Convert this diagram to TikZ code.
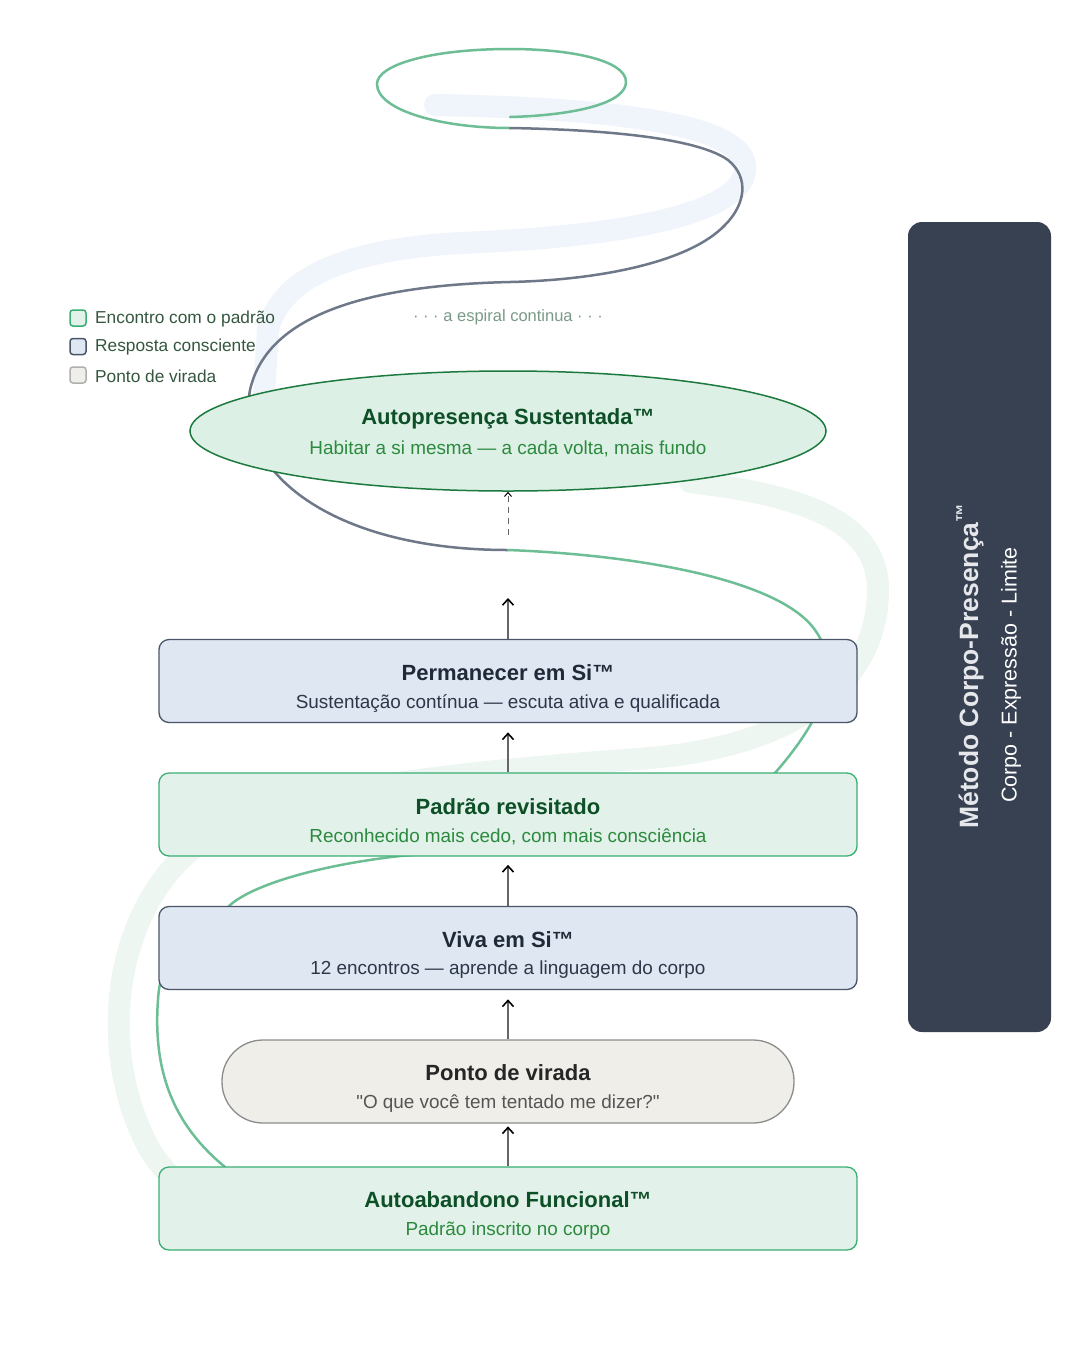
\documentclass[tikz,border=0pt]{standalone}
\usepackage{fontspec}
\setmainfont{Liberation Sans}[Ligatures=TeXOff]
\usetikzlibrary{arrows.meta,shapes.geometric}
\definecolor{greenline}{HTML}{6DBE94}
\definecolor{grayline}{HTML}{6E7889}
\definecolor{bandblue}{HTML}{F0F4FB}
\definecolor{bandgreen}{HTML}{EDF6F0}
\definecolor{gfill}{HTML}{E2F1E9}
\definecolor{gborder}{HTML}{3AAE73}
\definecolor{gtitle}{HTML}{0D4F27}
\definecolor{gsub}{HTML}{2B8A3E}
\definecolor{bfill}{HTML}{DFE7F3}
\definecolor{bborder}{HTML}{4A5568}
\definecolor{btitle}{HTML}{1F2937}
\definecolor{bsub}{HTML}{2D3748}
\definecolor{pfill}{HTML}{EFEEE9}
\definecolor{pborder}{HTML}{8C8C8C}
\definecolor{ptitle}{HTML}{262626}
\definecolor{psub}{HTML}{555555}
\definecolor{efill}{HTML}{DDF0E5}
\definecolor{eborder}{HTML}{1C7A3F}
\definecolor{sidebg}{HTML}{374151}
\definecolor{sidetext}{HTML}{E5E7EB}
\definecolor{legtext}{HTML}{35573F}
\definecolor{spiraltext}{HTML}{7A9A87}
\definecolor{arrline}{HTML}{666666}
\begin{document}
\begin{tikzpicture}[x=1pt,y=-1pt,
  stagebox/.style={rectangle,rounded corners=10pt,minimum width=698pt,minimum height=83pt,inner sep=0pt,line width=1.3pt},
  greenbox/.style={stagebox,fill=gfill,draw=gborder},
  bluebox/.style={stagebox,fill=bfill,draw=bborder},
  pillbox/.style={rectangle,rounded corners=41pt,minimum width=572pt,minimum height=83pt,inner sep=0pt,line width=1.3pt,fill=pfill,draw=pborder},
  ttl/.style={font=\fontsize{22}{26}\selectfont\bfseries,inner sep=0pt},
  sub/.style={font=\fontsize{18.9}{22}\selectfont,inner sep=0pt},
  legsq/.style={rectangle,rounded corners=3pt,minimum size=16pt,inner sep=0pt,line width=1.5pt},
  legtx/.style={font=\fontsize{17.3}{20}\selectfont,text=legtext,anchor=west,inner sep=0pt},
  band/.style={line width=22pt,line cap=round},
  spiral/.style={line width=2.5pt,line cap=round},
  uparr/.style={draw=arrline,line width=1.5pt,-{Straight Barb[length=6pt,width=11pt,line width=1.6pt,color=black]}},
]
\useasboundingbox (0,0) rectangle (1080,1350);
\fill[white] (0,0) rectangle (1080,1350);

% faint background bands
\draw[band,draw=bandblue] (435,105) .. controls (600,108) and (740,122) .. (745,165)
  .. controls (750,210) and (640,236) .. (460,243)
  .. controls (340,250) and (280,280) .. (268,330) -- (264,395);
\draw[band,draw=bandgreen] (690,482) .. controls (800,495) and (878,520) .. (878,590)
  .. controls (878,680) and (800,745) .. (650,758)
  .. controls (450,773) and (250,790) .. (180,860)
  .. controls (110,930) and (100,1060) .. (150,1150)
  .. controls (180,1200) and (250,1232) .. (320,1236);

% main spiral line
\draw[spiral,draw=greenline] (510,117) .. controls (580,115) and (626,102) .. (626,82)
  .. controls (626,60) and (570,49) .. (510,49)
  .. controls (430,49) and (377,65) .. (377,84)
  .. controls (377,110) and (440,128) .. (510,128);
\draw[spiral,draw=grayline] (510,128) .. controls (620,130) and (700,140) .. (728,160)
  .. controls (750,178) and (745,205) .. (725,225)
  .. controls (690,262) and (600,280) .. (510,282)
  .. controls (380,285) and (268,310) .. (250,390)
  .. controls (235,470) and (330,550) .. (508,550);
\draw[spiral,draw=greenline] (508,550) .. controls (640,555) and (780,580) .. (815,630)
  .. controls (840,665) and (830,710) .. (775,773)
  .. controls (720,830) and (550,845) .. (400,856)
  .. controls (320,865) and (250,885) .. (228,907)
  .. controls (180,940) and (160,960) .. (158,1000)
  .. controls (152,1080) and (180,1130) .. (225,1167);

% legend
\node[legsq,fill=gfill,draw=gborder] (lg1) at (78,318) {};
\node[legsq,fill=bfill,draw=bborder] (lg2) at (78,346.5) {};
\node[legsq,fill=pfill,draw=pborder!70] (lg3) at (78,375) {};
\node[legtx] (lt1) at (95,319) {Encontro com o padrão};
\node[legtx] (lt2) at (95,347.5) {Resposta consciente};
\node[legtx] (lt3) at (95,376) {Ponto de virada};

\node[font=\fontsize{16.5}{20}\selectfont,text=spiraltext,inner sep=0pt] (cont) at (508,317) {· · · a espiral continua · · ·};

% ellipse
\node[ellipse,minimum width=636pt,minimum height=120pt,inner sep=0pt,fill=efill,draw=eborder,line width=1.5pt] (ell) at (508,431) {};
\node[ttl,text=gtitle] (ellt) at (508,419) {Autopresença Sustentada™};
\node[sub,text=gsub] (ells) at (508,449) {Habitar a si mesma — a cada volta, mais fundo};

% boxes
\node[bluebox] (perm) at (508,681) {};
\node[ttl,text=btitle] (permt) at (508,672.5) {Permanecer em Si™};
\node[sub,text=bsub] (perms) at (508,704) {Sustentação contínua — escuta ativa e qualificada};

\node[greenbox] (padr) at (508,814.5) {};
\node[ttl,text=gtitle] (padrt) at (508,806.5) {Padrão revisitado};
\node[sub,text=gsub] (padrs) at (508,837) {Reconhecido mais cedo, com mais consciência};

\node[bluebox] (viva) at (508,948) {};
\node[ttl,text=btitle] (vivat) at (508,939.5) {Viva em Si™};
\node[sub,text=bsub] (vivas) at (508,970) {12 encontros — aprende a linguagem do corpo};

\node[pillbox] (pont) at (508,1081.5) {};
\node[ttl,text=ptitle] (pontt) at (508,1072.5) {Ponto de virada};
\node[sub,text=psub] (ponts) at (508,1104) {"O que você tem tentado me dizer?"};

\node[greenbox] (auto) at (508,1208.5) {};
\node[ttl,text=gtitle] (autot) at (508,1199.5) {Autoabandono Funcional™};
\node[sub,text=gsub] (autos) at (508,1231) {Padrão inscrito no corpo};

% arrows
\coordinate (e0) at (508,535);
\coordinate (a1) at (508,598);
\draw[uparr,dash pattern=on 6pt off 5pt,line width=1pt,-{Straight Barb[length=4pt,width=7pt,line width=1pt,color=black]}] (e0) -- (ell.south);
\draw[uparr] (perm.north) -- (a1);
\draw[uparr] (padr.north) -- ++(0,-40) coordinate (a2);
\draw[uparr] (viva.north) -- ++(0,-41) coordinate (a3);
\draw[uparr] (pont.north) -- ++(0,-40) coordinate (a4);
\draw[uparr] (auto.north) -- ++(0,-40) coordinate (a5);

% sidebar
\node[rectangle,rounded corners=14pt,minimum width=143pt,minimum height=810pt,inner sep=0pt,fill=sidebg] (side) at (979.5,627) {};
\node[rotate=90,font=\fontsize{26.5}{30}\selectfont\bfseries,text=sidetext,inner sep=0pt] (sidet) at (970,666) {Método Corpo-Presença\textsuperscript{™}};
\node[rotate=90,font=\fontsize{21.5}{24}\selectfont,text=white,inner sep=0pt] (sides) at (1011,675) {Corpo - Expressão - Limite};
\end{tikzpicture}
\end{document}
